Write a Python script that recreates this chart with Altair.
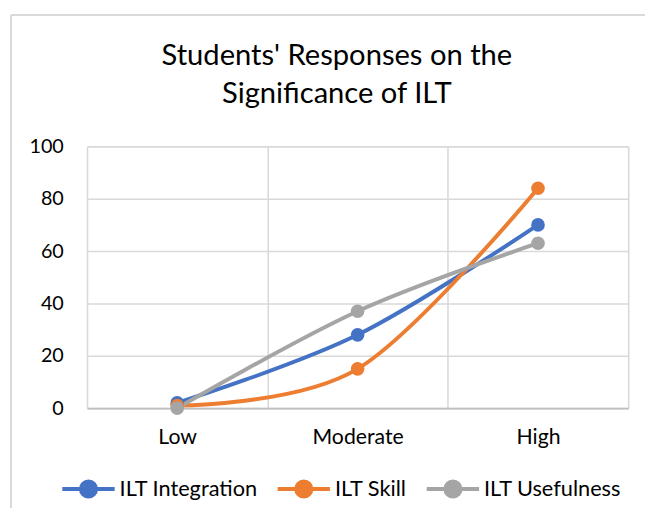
import altair as alt
import pandas as pd

categories = ["Low", "Moderate", "High"]
series_names = ["ILT Integration", "ILT Skill", "ILT Usefulness"]
integration = [2, 28, 70]
skill = [1, 15, 84]
usefulness = [0, 37, 63]
colors = ["#4472C4", "#ED7D31", "#A5A5A5"]
y_ticks = [0, 20, 40, 60, 80, 100]

rows = []
for name, vals in zip(series_names, [integration, skill, usefulness]):
    for c, v in zip(categories, vals):
        rows.append({"Category": c, "Series": name, "Value": v})
df = pd.DataFrame(rows)

FONT = "Lato"
GRID = "#d9d9d9"

xenc = alt.X(
    "Category:N",
    sort=categories,
    bandPosition=0.5,
    scale=alt.Scale(type="band", paddingInner=0, paddingOuter=0),
    axis=alt.Axis(
        title=None, labelAngle=0, tickBand="extent", grid=True, ticks=False,
        gridColor=GRID, gridWidth=1.6, domainColor="#bfbfbf", domainWidth=1.6,
        labelFont=FONT, labelFontSize=21.5, labelColor="#000", labelPadding=19,
    ),
)
yenc = alt.Y(
    "Value:Q",
    scale=alt.Scale(domain=[0, 100], nice=False),
    axis=alt.Axis(
        title=None, values=y_ticks, domain=False, ticks=False,
        gridColor=GRID, gridWidth=1.6,
        labelFont=FONT, labelFontSize=20, labelColor="#000", labelPadding=24,
    ),
)

sym_path = "M-1,0H1M0.29,0A0.29,0.29,0,1,1,-0.29,0A0.29,0.29,0,1,1,0.29,0Z"
legend = alt.Legend(
    title=None, orient="none", direction="horizontal",
    legendX=-27, legendY=318,
    symbolType=sym_path, symbolSize=2809, symbolStrokeWidth=4,
    labelFont=FONT, labelFontSize=22, labelColor="#000",
    labelOffset=3, columnPadding=12,
)
cscale = alt.Scale(domain=series_names, range=colors)
color = alt.Color("Series:N", scale=cscale, sort=series_names, legend=legend)

lines = alt.Chart(df).mark_line(interpolate="cardinal", strokeWidth=4).encode(
    x=xenc, y=yenc, color=color,
)
points = alt.Chart(df).mark_point(filled=True, size=190, opacity=1).encode(
    x=xenc, y=yenc, color=color,
)

frame_df = pd.DataFrame({"k": [0]})
frame_left = alt.Chart(frame_df).mark_rule(color=GRID, strokeWidth=2).encode(
    x=alt.value(-77), y=alt.value(-133), y2=alt.value(380)
)
frame_top = alt.Chart(frame_df).mark_rule(color=GRID, strokeWidth=2).encode(
    x=alt.value(-77), x2=alt.value(570), y=alt.value(-133)
)

chart = alt.layer(frame_left, frame_top, lines, points).properties(
    width=548,
    height=265,
    autosize=alt.AutoSizeParams(type="none"),
    padding={"left": 80, "top": 137, "right": 17, "bottom": 98},
    title=alt.TitleParams(
        text=["Students' Responses on the", "Significance of ILT"],
        font=FONT, fontSize=29.5, fontWeight="normal", color="#000",
        anchor="middle", frame="group", dx=-21, dy=131, offset=34, lineHeight=39,
    ),
).configure_view(stroke=None)

chart.save("out.html", embed_options={"renderer": "svg", "actions": False})
